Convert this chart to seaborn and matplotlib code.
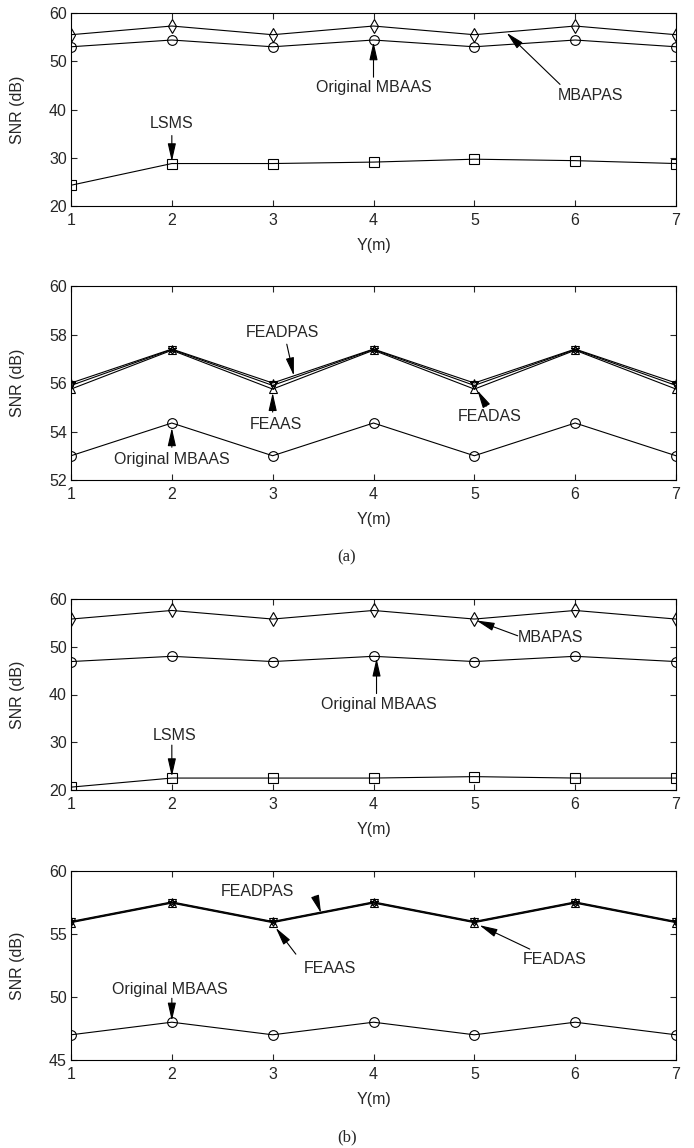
import numpy as np
import matplotlib
matplotlib.use("Agg")
import matplotlib.pyplot as plt
import seaborn as sns

# ==== data ====
y_pos = [1, 2, 3, 4, 5, 6, 7]

# (a) upper panel
a1_mbapas = [55.5, 57.3, 55.5, 57.3, 55.5, 57.3, 55.5]
a1_mbaas = [53.0, 54.4, 53.0, 54.4, 53.0, 54.4, 53.0]
a1_lsms = [24.3, 28.8, 28.8, 29.1, 29.7, 29.4, 28.8]

# (a) lower panel
a2_feadpas = [56.0, 57.4, 56.0, 57.4, 56.0, 57.4, 56.0]
a2_feadas = [55.9, 57.38, 55.9, 57.38, 55.9, 57.38, 55.9]
a2_feaas = [55.75, 57.35, 55.75, 57.35, 55.75, 57.35, 55.75]
a2_mbaas = [53.0, 54.35, 53.0, 54.35, 53.0, 54.35, 53.0]

# (b) upper panel
b1_mbapas = [55.8, 57.6, 55.8, 57.6, 55.8, 57.6, 55.8]
b1_mbaas = [46.9, 48.0, 46.9, 48.0, 46.9, 48.0, 46.9]
b1_lsms = [20.6, 22.5, 22.5, 22.5, 22.8, 22.5, 22.5]

# (b) lower panel
b2_feadpas = [56.0, 57.55, 56.0, 57.55, 56.0, 57.55, 56.0]
b2_feadas = [55.95, 57.5, 55.95, 57.5, 55.95, 57.5, 55.95]
b2_feaas = [55.9, 57.45, 55.9, 57.45, 55.9, 57.45, 55.9]
b2_mbaas = [47.0, 48.0, 47.0, 48.0, 47.0, 48.0, 47.0]

# ==== style ====
sns.set_style("ticks")
plt.rcParams['font.family'] = ['Liberation Sans', 'DejaVu Sans']
FS = 11.5

fig = plt.figure(figsize=(6.94, 11.48), dpi=100)

left, width = 71 / 694, 605 / 694
boxes = [(13, 206), (286, 480), (599, 790), (871, 1060)]
axes = []
for top, bot in boxes:
    axes.append(fig.add_axes([left, 1 - bot / 1148, width, (bot - top) / 1148]))


def draw(ax, yv, marker, ms=7):
    sns.lineplot(x=y_pos, y=yv, ax=ax, color="k", lw=0.8, marker=marker,
                 markersize=ms, markerfacecolor="none", markeredgecolor="k",
                 markeredgewidth=0.8)


def arrow(ax, tip, tail):
    ax.annotate("", xy=tip, xytext=tail,
                arrowprops=dict(arrowstyle="-|>,head_length=1.1,head_width=0.25",
                                color="k", lw=0.8, shrinkA=0, shrinkB=0))


def style(ax, lo, hi, step):
    ax.set_xlim(1, 7)
    ax.set_ylim(lo, hi)
    ax.set_xticks(y_pos)
    ax.set_yticks(np.arange(lo, hi + 0.01, step))
    ax.tick_params(direction="in", top=True, right=True, length=4, width=0.8,
                   labelsize=FS)
    ax.tick_params(axis="x", pad=5)
    ax.tick_params(axis="y", pad=3)
    for s in ax.spines.values():
        s.set_linewidth(0.8)
        s.set_color("k")
    ax.set_xlabel("Y(m)", fontsize=FS, labelpad=7)
    ax.set_ylabel("SNR (dB)", fontsize=FS)
    ax.yaxis.set_label_coords(-0.076, 0.5)


# (a) upper
ax = axes[0]
draw(ax, a1_mbapas, "d")
draw(ax, a1_mbaas, "o")
draw(ax, a1_lsms, "s")
style(ax, 20, 60, 10)
ax.text(4, 44.5, "Original MBAAS", ha="center", va="center", fontsize=FS)
arrow(ax, (4, 54.0), (4, 46.7))
ax.text(6.15, 42.8, "MBAPAS", ha="center", va="center", fontsize=FS)
arrow(ax, (5.32, 55.9), (5.85, 45.2))
ax.text(2, 37.0, "LSMS", ha="center", va="center", fontsize=FS)
arrow(ax, (2, 29.2), (2, 34.6))

# (a) lower
ax = axes[1]
draw(ax, a2_feadpas, "*", 6)
draw(ax, a2_feadas, "v", 6)
draw(ax, a2_feaas, "^", 6)
draw(ax, a2_mbaas, "o")
style(ax, 52, 60, 2)
ax.text(3.1, 58.1, "FEADPAS", ha="center", va="center", fontsize=FS)
arrow(ax, (3.21, 56.3), (3.14, 57.6))
ax.text(3.03, 54.3, "FEAAS", ha="center", va="center", fontsize=FS)
arrow(ax, (3.0, 55.6), (3.0, 54.8))
ax.text(5.15, 54.6, "FEADAS", ha="center", va="center", fontsize=FS)
arrow(ax, (5.03, 55.7), (5.12, 55.05))
ax.text(2.0, 52.85, "Original MBAAS", ha="center", va="center", fontsize=FS)
arrow(ax, (2.0, 54.15), (2.0, 53.35))

# (b) upper
ax = axes[2]
draw(ax, b1_mbapas, "d")
draw(ax, b1_mbaas, "o")
draw(ax, b1_lsms, "s")
style(ax, 20, 60, 10)
ax.text(5.43, 52.0, "MBAPAS", ha="left", va="center", fontsize=FS)
arrow(ax, (5.02, 55.5), (5.43, 52.3))
ax.text(4.05, 38.0, "Original MBAAS", ha="center", va="center", fontsize=FS)
arrow(ax, (4.03, 47.6), (4.03, 40.2))
ax.text(2.03, 31.4, "LSMS", ha="center", va="center", fontsize=FS)
arrow(ax, (2.0, 22.8), (2.0, 29.4))

# (b) lower
ax = axes[3]
draw(ax, b2_feadpas, "*", 6)
draw(ax, b2_feadas, "v", 6)
draw(ax, b2_feaas, "^", 6)
draw(ax, b2_mbaas, "o")
style(ax, 45, 60, 5)
ax.text(2.85, 58.4, "FEADPAS", ha="center", va="center", fontsize=FS)
arrow(ax, (3.48, 56.65), (3.42, 58.0))
ax.text(3.57, 52.3, "FEAAS", ha="center", va="center", fontsize=FS)
arrow(ax, (3.03, 55.5), (3.23, 53.4))
ax.text(5.8, 53.0, "FEADAS", ha="center", va="center", fontsize=FS)
arrow(ax, (5.05, 55.7), (5.55, 53.8))
ax.text(1.98, 50.6, "Original MBAAS", ha="center", va="center", fontsize=FS)
arrow(ax, (2.0, 48.1), (2.0, 49.9))

fig.text(0.5, 1 - 557 / 1148, "(a)", ha="center", va="center",
         family=["Liberation Serif", "DejaVu Serif"], fontsize=12)
fig.text(0.5, 1 - 1137 / 1148, "(b)", ha="center", va="center",
         family=["Liberation Serif", "DejaVu Serif"], fontsize=12)

fig.savefig("out.png", dpi=100)
